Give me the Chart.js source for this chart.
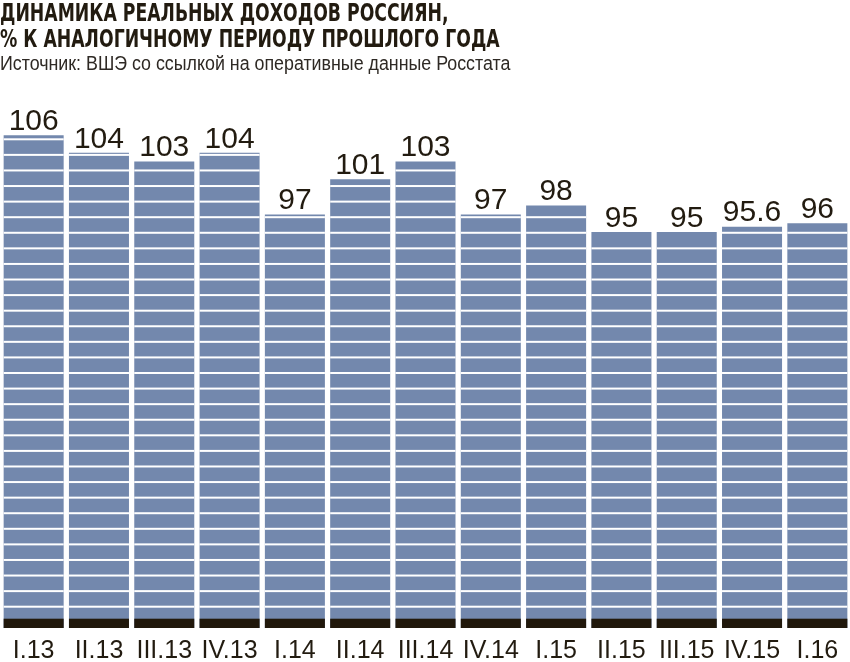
<!DOCTYPE html>
<html lang="ru">
<head>
<meta charset="utf-8">
<script src="https://cdn.jsdelivr.net/npm/chart.js@4"></script>
<style>
  body { margin: 0; background: #fff; }
  #wrap { position: relative; width: 850px; height: 662px; overflow: hidden; }
  #chart { position: absolute; left: 0; top: 0; }
  .title {
    position: absolute; left: 0; top: 1px;
    font-family: "DejaVu Sans", sans-serif;
    font-weight: bold; font-size: 24px; line-height: 25.6px;
    color: #221b10; white-space: nowrap; transform-origin: 0 0;
  }
  .source {
    position: absolute; left: 0; top: 52px;
    font-family: "Liberation Sans", sans-serif;
    font-size: 19.5px; line-height: 22px;
    color: #2e2924; white-space: nowrap; transform-origin: 0 0;
  }
</style>
</head>
<body>
<div id="wrap">
  <canvas id="chart" width="850" height="662"></canvas>
  <div class="title" id="title">ДИНАМИКА РЕАЛЬНЫХ ДОХОДОВ РОССИЯН,<br>% К АНАЛОГИЧНОМУ ПЕРИОДУ ПРОШЛОГО ГОДА</div>
  <div class="source" id="source">Источник: ВШЭ со ссылкой на оперативные данные Росстата</div>
</div>
<script>
const quarters = ["I.13", "II.13", "III.13", "IV.13", "I.14", "II.14", "III.14",
  "IV.14", "I.15", "II.15", "III.15", "IV.15", "I.16"];
const incomeIndex = [106, 104, 103, 104, 97, 101, 103, 97, 98, 95, 95, 95.6, 96];

const barColor = "#7388ad";
const darkBand = "#21180b";
const textColor = "#221b10";

// squeeze the heading lines to the width they have in the print
function fitWidth(id, target) {
  const el = document.getElementById(id);
  el.style.transform = "scaleX(" + target / el.scrollWidth + ")";
}
fitWidth("title", 500);
fitWidth("source", 510);

// white stripes + dark foot on every bar
const stripes = {
  id: "stripes",
  afterDatasetsDraw(chart) {
    const ctx = chart.ctx;
    const bottom = chart.chartArea.bottom;
    const meta = chart.getDatasetMeta(0);
    ctx.save();
    meta.data.forEach((bar) => {
      const left = bar.x - bar.width / 2;
      const w = bar.width;
      ctx.fillStyle = darkBand;
      ctx.fillRect(left, bottom - 9.3, w, 9.3);
      ctx.fillStyle = "#ffffff";
      for (let yy = bottom - 21.3; yy > bar.y + 1; yy -= 15.58) {
        ctx.fillRect(left, yy - 1, w, 2);
      }
    });
    ctx.restore();
  },
};

// numbers above the bars
const valueLabels = {
  id: "valueLabels",
  afterDatasetsDraw(chart) {
    const ctx = chart.ctx;
    const meta = chart.getDatasetMeta(0);
    ctx.save();
    ctx.font = '30px "Liberation Sans", sans-serif';
    ctx.fillStyle = textColor;
    ctx.textAlign = "center";
    ctx.textBaseline = "alphabetic";
    meta.data.forEach((bar, i) => {
      ctx.fillText(String(incomeIndex[i]), bar.x, bar.y - 5.3);
    });
    ctx.restore();
  },
};

let ctx = document.getElementById("chart").getContext("2d");
let incomeChart = new Chart(ctx, {
  type: "bar",
  data: {
    labels: quarters,
    datasets: [
      {
        data: incomeIndex,
        backgroundColor: barColor,
        borderWidth: 0,
        barPercentage: 0.919,
        categoryPercentage: 1,
      },
    ],
  },
  options: {
    responsive: false,
    animation: false,
    layout: { padding: { top: 100, left: 1, right: 0, bottom: -12 } },
    plugins: {
      legend: { display: false },
      tooltip: { enabled: false },
    },
    scales: {
      x: {
        grid: { display: false, drawTicks: false },
        border: { display: false },
        ticks: {
          color: textColor,
          padding: 10.5,
          maxRotation: 0,
          autoSkip: false,
          font: { family: '"Liberation Sans", sans-serif', size: 25, lineHeight: 1 },
        },
      },
      y: {
        display: false,
        min: 50,
        max: 110,
      },
    },
  },
  plugins: [stripes, valueLabels],
});
</script>
</body>
</html>
